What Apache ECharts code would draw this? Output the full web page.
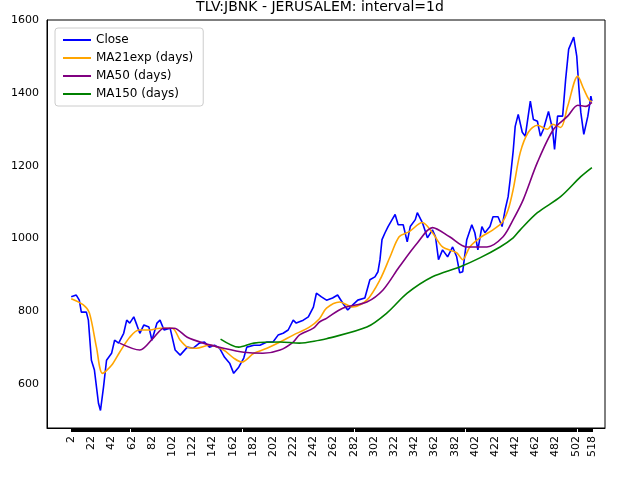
<!DOCTYPE html>
<html>
<head>
<meta charset="utf-8">
<script src="https://cdn.jsdelivr.net/npm/echarts@6/dist/echarts.min.js"></script>
<style>html,body{margin:0;padding:0;background:#fff}#main{width:640px;height:480px}</style>
</head>
<body>
<div id="main"></div>
<script>
// [day, value]
var closeData = [[2,840],[7,845],[10,831],[12,798],[17,798],[19,776],[22,666],[25,639],[29,548],[31,528],[34,592],[37,666],[42,685],[45,721],[49,713],[54,740],[57,776],[60,768],[64,785],[67,763],[70,740],[74,763],[79,757],[82,721],[87,768],[90,776],[94,749],[100,754],[105,694],[110,680],[117,702],[123,699],[129,713],[134,716],[139,702],[144,707],[149,699],[154,674],[159,658],[163,630],[168,647],[173,672],[176,702],[183,707],[189,707],[196,716],[202,716],[207,735],[212,740],[217,749],[222,776],[225,768],[232,776],[237,785],[242,812],[245,850],[250,840],[255,831],[261,837],[266,845],[271,823],[276,804],[281,818],[286,831],[293,837],[298,887],[303,895],[306,909],[308,942],[310,997],[313,1016],[316,1033],[320,1052],[323,1066],[326,1038],[331,1038],[335,991],[338,1033],[343,1052],[345,1071],[350,1044],[355,1002],[360,1024],[363,1005],[366,942],[370,969],[375,950],[380,977],[384,950],[387,906],[390,909],[394,997],[399,1038],[402,1016],[405,969],[409,1033],[412,1016],[417,1033],[420,1060],[425,1060],[429,1033],[432,1079],[435,1115],[437,1162],[440,1240],[442,1308],[445,1341],[449,1292],[452,1281],[457,1377],[460,1327],[464,1322],[467,1281],[470,1300],[475,1349],[479,1300],[481,1245],[484,1336],[489,1336],[492,1437],[495,1520],[500,1553],[503,1501],[505,1418],[507,1347],[510,1286],[514,1336],[517,1391],[518,1377]];
var ma21Data = [[2,835],[14,818],[20,796],[27,702],[33,630],[42,652],[50,688],[60,729],[69,749],[80,749],[90,754],[102,754],[110,721],[117,702],[126,699],[139,707],[153,694],[163,672],[171,661],[183,685],[196,699],[209,716],[222,735],[238,757],[248,780],[255,809],[268,826],[281,812],[295,831],[308,887],[318,950],[327,1005],[337,1019],[350,1044],[360,1016],[370,977],[384,961],[390,942],[397,977],[407,1002],[420,1024],[429,1044],[435,1079],[440,1135],[447,1236],[455,1292],[464,1311],[474,1300],[479,1314],[487,1305],[494,1363],[504,1446],[510,1410],[517,1377],[518,1377]];
var ma50Data = [[50,713],[70,694],[84,729],[94,754],[104,754],[117,729],[133,713],[153,699],[173,688],[192,685],[209,694],[222,716],[228,735],[242,754],[248,771],[255,781],[271,809],[295,826],[311,859],[327,922],[345,988],[360,1030],[377,1005],[394,977],[414,977],[430,1005],[440,1052],[450,1107],[464,1209],[480,1300],[494,1336],[504,1366],[512,1363],[518,1374]];
var ma150Data = [[150,724],[168,702],[183,713],[209,716],[228,713],[248,721],[255,725],[295,757],[315,796],[335,850],[360,895],[387,922],[407,947],[427,977],[440,1002],[447,1024],[464,1071],[487,1115],[507,1170],[518,1195]];
var firstDay = -22, lastDay = 531;

var days = [];
for (var d = firstDay; d <= lastDay; d++) days.push(String(d));
function toCat(arr) {
    return arr.map(function (p) { return [String(p[0]), p[1]]; });
}

var myChart = echarts.init(document.getElementById('main'));
var font = 'DejaVu Sans';
var option = {
    animation: false,
    textStyle: {fontFamily: font},
    title: {
        text: 'TLV:JBNK - JERUSALEM: interval=1d',
        left: 'center', top: -5,
        textStyle: {fontFamily: font, fontSize: 14, fontWeight: 'normal', color: '#000'}
    },
    legend: {
        orient: 'vertical', left: 55, top: 28,
        backgroundColor: '#fff', borderColor: '#ccc', borderWidth: 1, borderRadius: 3,
        padding: [6, 10, 6, 8], itemGap: 6,
        icon: 'rect', itemWidth: 28, itemHeight: 2,
        textStyle: {fontFamily: font, fontSize: 12, color: '#000'},
        data: ['Close', 'MA21exp (days)', 'MA50 (days)', 'MA150 (days)']
    },
    grid: {left: 47, right: 35, top: 20, bottom: 52, show: true, borderColor: '#000', borderWidth: 1},
    xAxis: {
        type: 'category', data: days, boundaryGap: false,
        axisLine: {lineStyle: {color: '#000'}},
        axisTick: {
            length: 4, lineStyle: {color: '#000'},
            interval: function (i, v) { var n = +v; return n >= 2 && n <= 518; }
        },
        axisLabel: {
            rotate: 90, fontSize: 11, color: '#000', fontFamily: font,
            interval: function (i, v) { var n = +v; return (n >= 2 && n <= 502 && (n - 2) % 20 === 0) || n === 518; }
        }
    },
    yAxis: {
        type: 'value', min: 480, max: 1600, interval: 40,
        splitLine: {show: false},
        axisLine: {show: true, lineStyle: {color: '#000'}},
        axisTick: {show: false},
        axisLabel: {
            fontSize: 11, color: '#000', fontFamily: font,
            formatter: function (v) { return v % 200 === 0 ? v : ''; }
        }
    },
    series: [
        {name: 'Close', type: 'line', data: toCat(closeData), showSymbol: false, lineStyle: {width: 1.6}, color: '#0000ff'},
        {name: 'MA21exp (days)', type: 'line', data: toCat(ma21Data), showSymbol: false, smooth: 0.3, lineStyle: {width: 1.6}, color: '#ffa500'},
        {name: 'MA50 (days)', type: 'line', data: toCat(ma50Data), showSymbol: false, smooth: 0.3, lineStyle: {width: 1.6}, color: '#800080'},
        {name: 'MA150 (days)', type: 'line', data: toCat(ma150Data), showSymbol: false, smooth: 0.3, lineStyle: {width: 1.6}, color: '#008000'}
    ]
};
myChart.setOption(option);
</script>
</body>
</html>
